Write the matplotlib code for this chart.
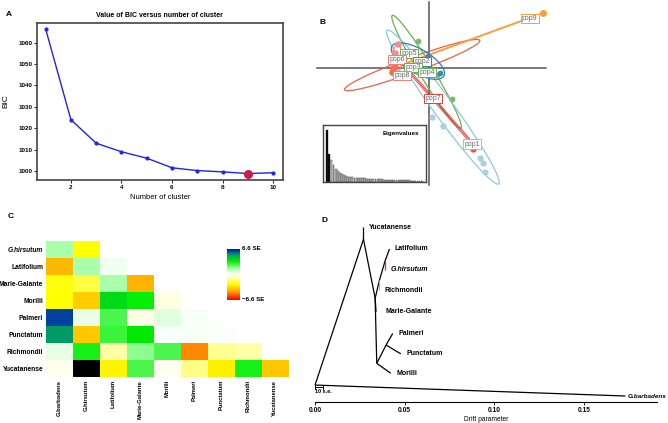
import numpy as np
import matplotlib.pyplot as plt
from matplotlib.colors import LinearSegmentedColormap
from matplotlib.patches import Ellipse

plt.rcParams['font.family'] = ['Liberation Sans', 'DejaVu Sans']
plt.rcParams['font.weight'] = 'bold'

# === Panel A data: BIC vs number of clusters ===
n_cluster = [1, 2, 3, 4, 5, 6, 7, 8, 9, 10]
bic = [1066.5, 1024.0, 1013.0, 1009.0, 1006.0, 1001.5, 1000.2, 999.6, 998.8, 999.2]
best_k = 9

# === Panel B data: DAPC scatter ===
eigenvalues = [155, 85, 67, 52, 40, 32, 27, 23, 20, 18, 16, 15, 14, 13, 12.5, 12,
               11.5, 11, 10.5, 10, 9.6, 9.2, 8.8, 8.5, 8.2, 7.9, 7.6, 7.3, 7.0, 6.8,
               6.5, 6.3, 6.1, 5.9, 5.7, 5.5, 5.3, 5.1, 4.9, 4.7, 4.5, 4.3, 4.1, 3.9,
               3.7, 3.5]
n_retained = 2
pts_lightblue_x = [0.27, 1.43, 5.1, 5.37, 5.6]
pts_lightblue_y = [-4.87, -5.8, -9.03, -9.53, -10.37]
pts_green_x = [-1.07, 2.33, 0.83, -0.3]
pts_green_y = [2.73, -3.13, -0.7, 1.0]
pts_steel_x = [-0.07, 1.1]
pts_steel_y = [1.2, -0.53]
pts_pink_x = [-3.07, -3.4, -3.0]
pts_pink_y = [2.4, 1.5, 1.0]
pts_salmon_x = [-3.57, -3.64, -3.4]
pts_salmon_y = [-0.03, -0.37, 0.13]
pts_red_x = [4.43]
pts_red_y = [-8.13]
pop9_x, pop9_y = 11.4, 5.5

ell_centers = [(-1.67, 0.3), (-0.23, -0.37), (1.4, -3.9), (-1.1, 0.7), (-3.15, 1.0)]
ell_widths = [14.4, 13.2, 19.0, 6.0, 1.0]
ell_heights = [1.5, 1.4, 2.0, 2.4, 2.7]
ell_angles = [20, -58.7, -54, -30, 0]
ell_colors = ['#e8604c', '#6ab04c', '#8fc6e0', '#2f7fb5', '#f08080']

pop_labels = ['pop9', 'pop5', 'pop6', 'pop2', 'pop3', 'pop4', 'pop8', 'pop7', 'pop1']
pop_x = [10.1, -2.0, -3.2, -0.7, -1.6, -0.2, -2.7, 0.4, 4.3]
pop_y = [5.0, 1.5, 0.9, 0.7, 0.03, -0.4, -0.7, -3.0, -7.6]
pop_colors = ['#f5a040', '#6ab04c', '#f08070', '#2f7fb5', '#6ab04c', '#6ab04c',
              '#f08070', '#e04040', '#8fc6e0']

# === Panel C data: residual matrix (SE units) ===
rows = ['G.hirsutum', 'Latifolium', 'Marie-Galante', 'Morilli', 'Palmeri',
        'Punctatum', 'Richmondii', 'Yucatanense']
cols = ['G.barbadens', 'G.hirsutum', 'Latifolium', 'Marie-Galante', 'Morilli',
        'Palmeri', 'Punctatum', 'Richmondii', 'Yucatanense']
resid = [
    [1.3, -2.6],
    [-4.0, 1.3, 0.25],
    [-2.5, -2.0, 1.3, -4.1],
    [-2.6, -3.6, 3.7, 3.2, -0.4],
    [5.9, 0.4, 2.4, -0.26, 0.5, 0.13],
    [5.0, -3.7, 2.6, 3.4, 0.15, 0.15, 0.1],
    [0.4, 3.0, -1.0, 1.6, 2.4, -4.8, -1.2, -1.0],
    [-0.25, -9.0, -2.8, 2.4, -0.25, -1.3, -2.9, 3.0, -3.7],
]
se_max = 6.6

# === Panel D data: treemix tree ===
node_names = ['root', 'n_yuc', 'Yucatanense', 'G.barbadens', 'n1', 'n2', 'Richmondii',
              'n3', 'G.hirsutum', 'Latifolium', 'Marie-Galante', 'n4', 'Morilli',
              'n5', 'Palmeri', 'Punctatum']
node_x = [0.0, 0.027, 0.027, 0.173, 0.0335, 0.0359, 0.0359, 0.0390, 0.0390, 0.0415,
          0.0340, 0.0344, 0.0422, 0.0396, 0.0433, 0.0478]
node_y = [0.52, 7.44, 8.0, 0.0, 4.64, 5.5, 5.03, 6.4, 6.0, 6.98, 4.0, 1.55, 1.08,
          2.42, 2.97, 2.0]
edges = [('root', 'n_yuc'), ('root', 'G.barbadens'), ('n_yuc', 'Yucatanense'),
         ('n_yuc', 'n1'), ('n1', 'n2'), ('n2', 'Richmondii'), ('n2', 'n3'),
         ('n3', 'G.hirsutum'), ('n3', 'Latifolium'), ('n1', 'Marie-Galante'),
         ('n1', 'n4'), ('n4', 'Morilli'), ('n4', 'n5'), ('n5', 'Palmeri'),
         ('n5', 'Punctatum')]
edge_colors = {('n2', 'Richmondii'): '#f0a040', ('n3', 'G.hirsutum'): '#e03030'}
leaves = ['Yucatanense', 'Latifolium', 'G.hirsutum', 'Richmondii', 'Marie-Galante',
          'Palmeri', 'Punctatum', 'Morilli', 'G.barbadens']

fig = plt.figure(figsize=(6.68, 4.23), dpi=100)

# ---------------- Panel A ----------------
axA = fig.add_axes([0.0554, 0.5745, 0.368, 0.371])
axA.plot(n_cluster, bic, color='#2323e6', lw=1.0, marker='o', ms=2)
axA.plot([best_k], [bic[n_cluster.index(best_k)]], 'o', color='#c8204a', ms=5.5)
axA.set_xlim(0.66, 10.38)
axA.set_ylim(995.8, 1069.2)
axA.set_xticks([2, 4, 6, 8, 10])
axA.set_yticks([1000, 1010, 1020, 1030, 1040, 1050, 1060])
axA.tick_params(labelsize=4.5, length=2, width=0.6, pad=1.5)
for s in axA.spines.values():
    s.set_linewidth(1.2)
    s.set_color('#444444')
axA.set_title('Value of BIC versus number of cluster', fontsize=5, fontweight='bold', pad=4)
axA.set_xlabel('Number of cluster', fontsize=5.5, labelpad=3)
axA.set_ylabel('BIC', fontsize=6, labelpad=6)
fig.text(0.008, 0.962, 'A', fontsize=6, fontweight='bold')

# ---------------- Panel B ----------------
axB = fig.add_axes([0.464, 0.5508, 0.374, 0.449])
axB.set_xlim(-11.9, 13.1)
axB.set_ylim(-12.2, 6.8)
axB.axis('off')
axB.plot([-11.2, 11.7], [0, 0], color='#555555', lw=1.1, zorder=1)
axB.plot([0, 0], [6.6, -11.7], color='#555555', lw=1.1, zorder=1)
for c, w, h, a, col in zip(ell_centers, ell_widths, ell_heights, ell_angles, ell_colors):
    axB.add_patch(Ellipse(c, w, h, angle=a, fill=False, ec=col, lw=0.9, zorder=2))
axB.plot([pop9_x, -2.8], [pop9_y, 0.3], color='#f5a040', lw=1.4, zorder=3)
axB.plot([pop9_x], [pop9_y], 'o', color='#f5a040', ms=4, zorder=4)
for off in [-0.15, 0.0, 0.15]:
    axB.plot([-1.9 + off, 4.1 + off], [-0.4, -7.25], color='#d42828', lw=0.5, zorder=3)
axB.scatter(pts_lightblue_x, pts_lightblue_y, s=12, color='#a8d0e0', zorder=4)
axB.scatter(pts_green_x, pts_green_y, s=10, color='#7ab86a', zorder=4)
axB.scatter(pts_steel_x, pts_steel_y, s=10, color='#3a8ab8', zorder=4)
axB.scatter(pts_pink_x, pts_pink_y, s=14, color='#f09090', zorder=4)
axB.scatter(pts_salmon_x, pts_salmon_y, s=14, color='#f07050', zorder=4)
axB.scatter(pts_red_x, pts_red_y, s=12, color='#e05050', zorder=4)
for lab, x, y, col in zip(pop_labels, pop_x, pop_y, pop_colors):
    axB.text(x, y, lab, fontsize=5, color='#666666', fontweight='normal',
             ha='center', va='center', zorder=5,
             bbox=dict(boxstyle='square,pad=0.15', fc='white', ec=col, lw=0.7))
fig.text(0.479, 0.943, 'B', fontsize=6, fontweight='bold')

axE = fig.add_axes([0.4835, 0.5697, 0.154, 0.1348])
bar_cols = ['black' if i < n_retained else '#bbbbbb' for i in range(len(eigenvalues))]
axE.bar(range(len(eigenvalues)), eigenvalues, width=0.9, color=bar_cols,
        edgecolor='#333333', lw=0.3)
axE.set_xlim(-2, len(eigenvalues) + 1)
axE.set_ylim(0, 170)
axE.set_xticks([])
axE.set_yticks([])
for s in axE.spines.values():
    s.set_linewidth(1.0)
    s.set_color('#444444')
axE.text(0.93, 0.85, 'Eigenvalues', transform=axE.transAxes, fontsize=4.5,
         fontweight='bold', ha='right', va='center')

# ---------------- Panel C ----------------
cmap = LinearSegmentedColormap.from_list('resid', [
    (0.0, '#ff0000'), (0.15, '#ff9900'), (0.3, '#ffff00'), (0.45, '#ffffcc'),
    (0.5, '#ffffff'), (0.6, '#aaffaa'), (0.75, '#00ee00'), (0.88, '#009966'),
    (1.0, '#0000cc')])
cmap.set_under('black')
cmap.set_bad('white')
mat = np.full((len(rows), len(cols)), np.nan)
for i, r in enumerate(resid):
    mat[i, :len(r)] = r
axC = fig.add_axes([0.0689, 0.1087, 0.3623, 0.3215])
im = axC.imshow(np.ma.masked_invalid(mat), cmap=cmap, vmin=-se_max, vmax=se_max,
                aspect='auto', interpolation='nearest')
axC.set_xticks(range(len(cols)))
axC.set_yticks(range(len(rows)))
axC.set_xticklabels(cols, rotation=90, fontsize=4.2, fontweight='bold')
axC.set_yticklabels(rows, fontsize=4.8, fontweight='bold')
axC.get_yticklabels()[0].set_style('italic')
axC.tick_params(length=0, pad=2)
for s in axC.spines.values():
    s.set_visible(False)
fig.text(0.012, 0.485, 'C', fontsize=6, fontweight='bold')

axCB = fig.add_axes([0.3398, 0.2908, 0.018, 0.1206])
grad = np.linspace(se_max, -se_max, 100).reshape(-1, 1)
axCB.imshow(grad, cmap=cmap, vmin=-se_max, vmax=se_max, aspect='auto')
axCB.axis('off')
axCB.text(1.25, 1.0, '6.6 SE', transform=axCB.transAxes, fontsize=4.5,
          fontweight='bold', va='center')
axCB.text(1.25, 0.0, '\u22126.6 SE', transform=axCB.transAxes, fontsize=4.5,
          fontweight='bold', va='center')

# ---------------- Panel D ----------------
axD = fig.add_axes([0.4716, 0.0496, 0.512, 0.461])
pos = {n: (x, y) for n, x, y in zip(node_names, node_x, node_y)}
for a, b in edges:
    col = edge_colors.get((a, b), 'black')
    axD.plot([pos[a][0], pos[b][0]], [pos[a][1], pos[b][1]], color=col, lw=0.9,
             solid_capstyle='butt', clip_on=False)
for lf in leaves:
    x, y = pos[lf]
    dx = 0.0055 if lf == 'Marie-Galante' else 0.003
    fsz = 5
    if lf == 'G.barbadens':
        dx = 0.0012
        fsz = 4.6
    axD.text(x + dx, y, lf, fontsize=fsz, fontweight='bold', va='center', ha='left',
             style='italic' if lf.startswith('G.') else 'normal', clip_on=False)
# scale bar
axD.plot([0, 0.0045], [0.44, 0.44], color='black', lw=0.7)
axD.plot([0, 0], [0.34, 0.54], color='black', lw=0.7)
axD.plot([0.0045, 0.0045], [0.34, 0.54], color='black', lw=0.7)
axD.text(0.0, 0.2, '10 s.e.', fontsize=4, fontweight='bold', va='center')
axD.set_xlim(0, 0.1906)
axD.set_ylim(-0.285, 8.97)
axD.set_xticks([0, 0.05, 0.10, 0.15])
axD.set_xticklabels(['0.00', '0.05', '0.10', '0.15'])
axD.set_yticks([])
axD.tick_params(labelsize=4.8, length=2, width=0.6, pad=1.5)
for k in ['top', 'right', 'left']:
    axD.spines[k].set_visible(False)
axD.spines['bottom'].set_linewidth(0.8)
axD.set_xlabel('Drift parameter', fontsize=4.8, labelpad=1.5)
fig.text(0.481, 0.475, 'D', fontsize=6, fontweight='bold')

fig.savefig('out.png', dpi=100)
